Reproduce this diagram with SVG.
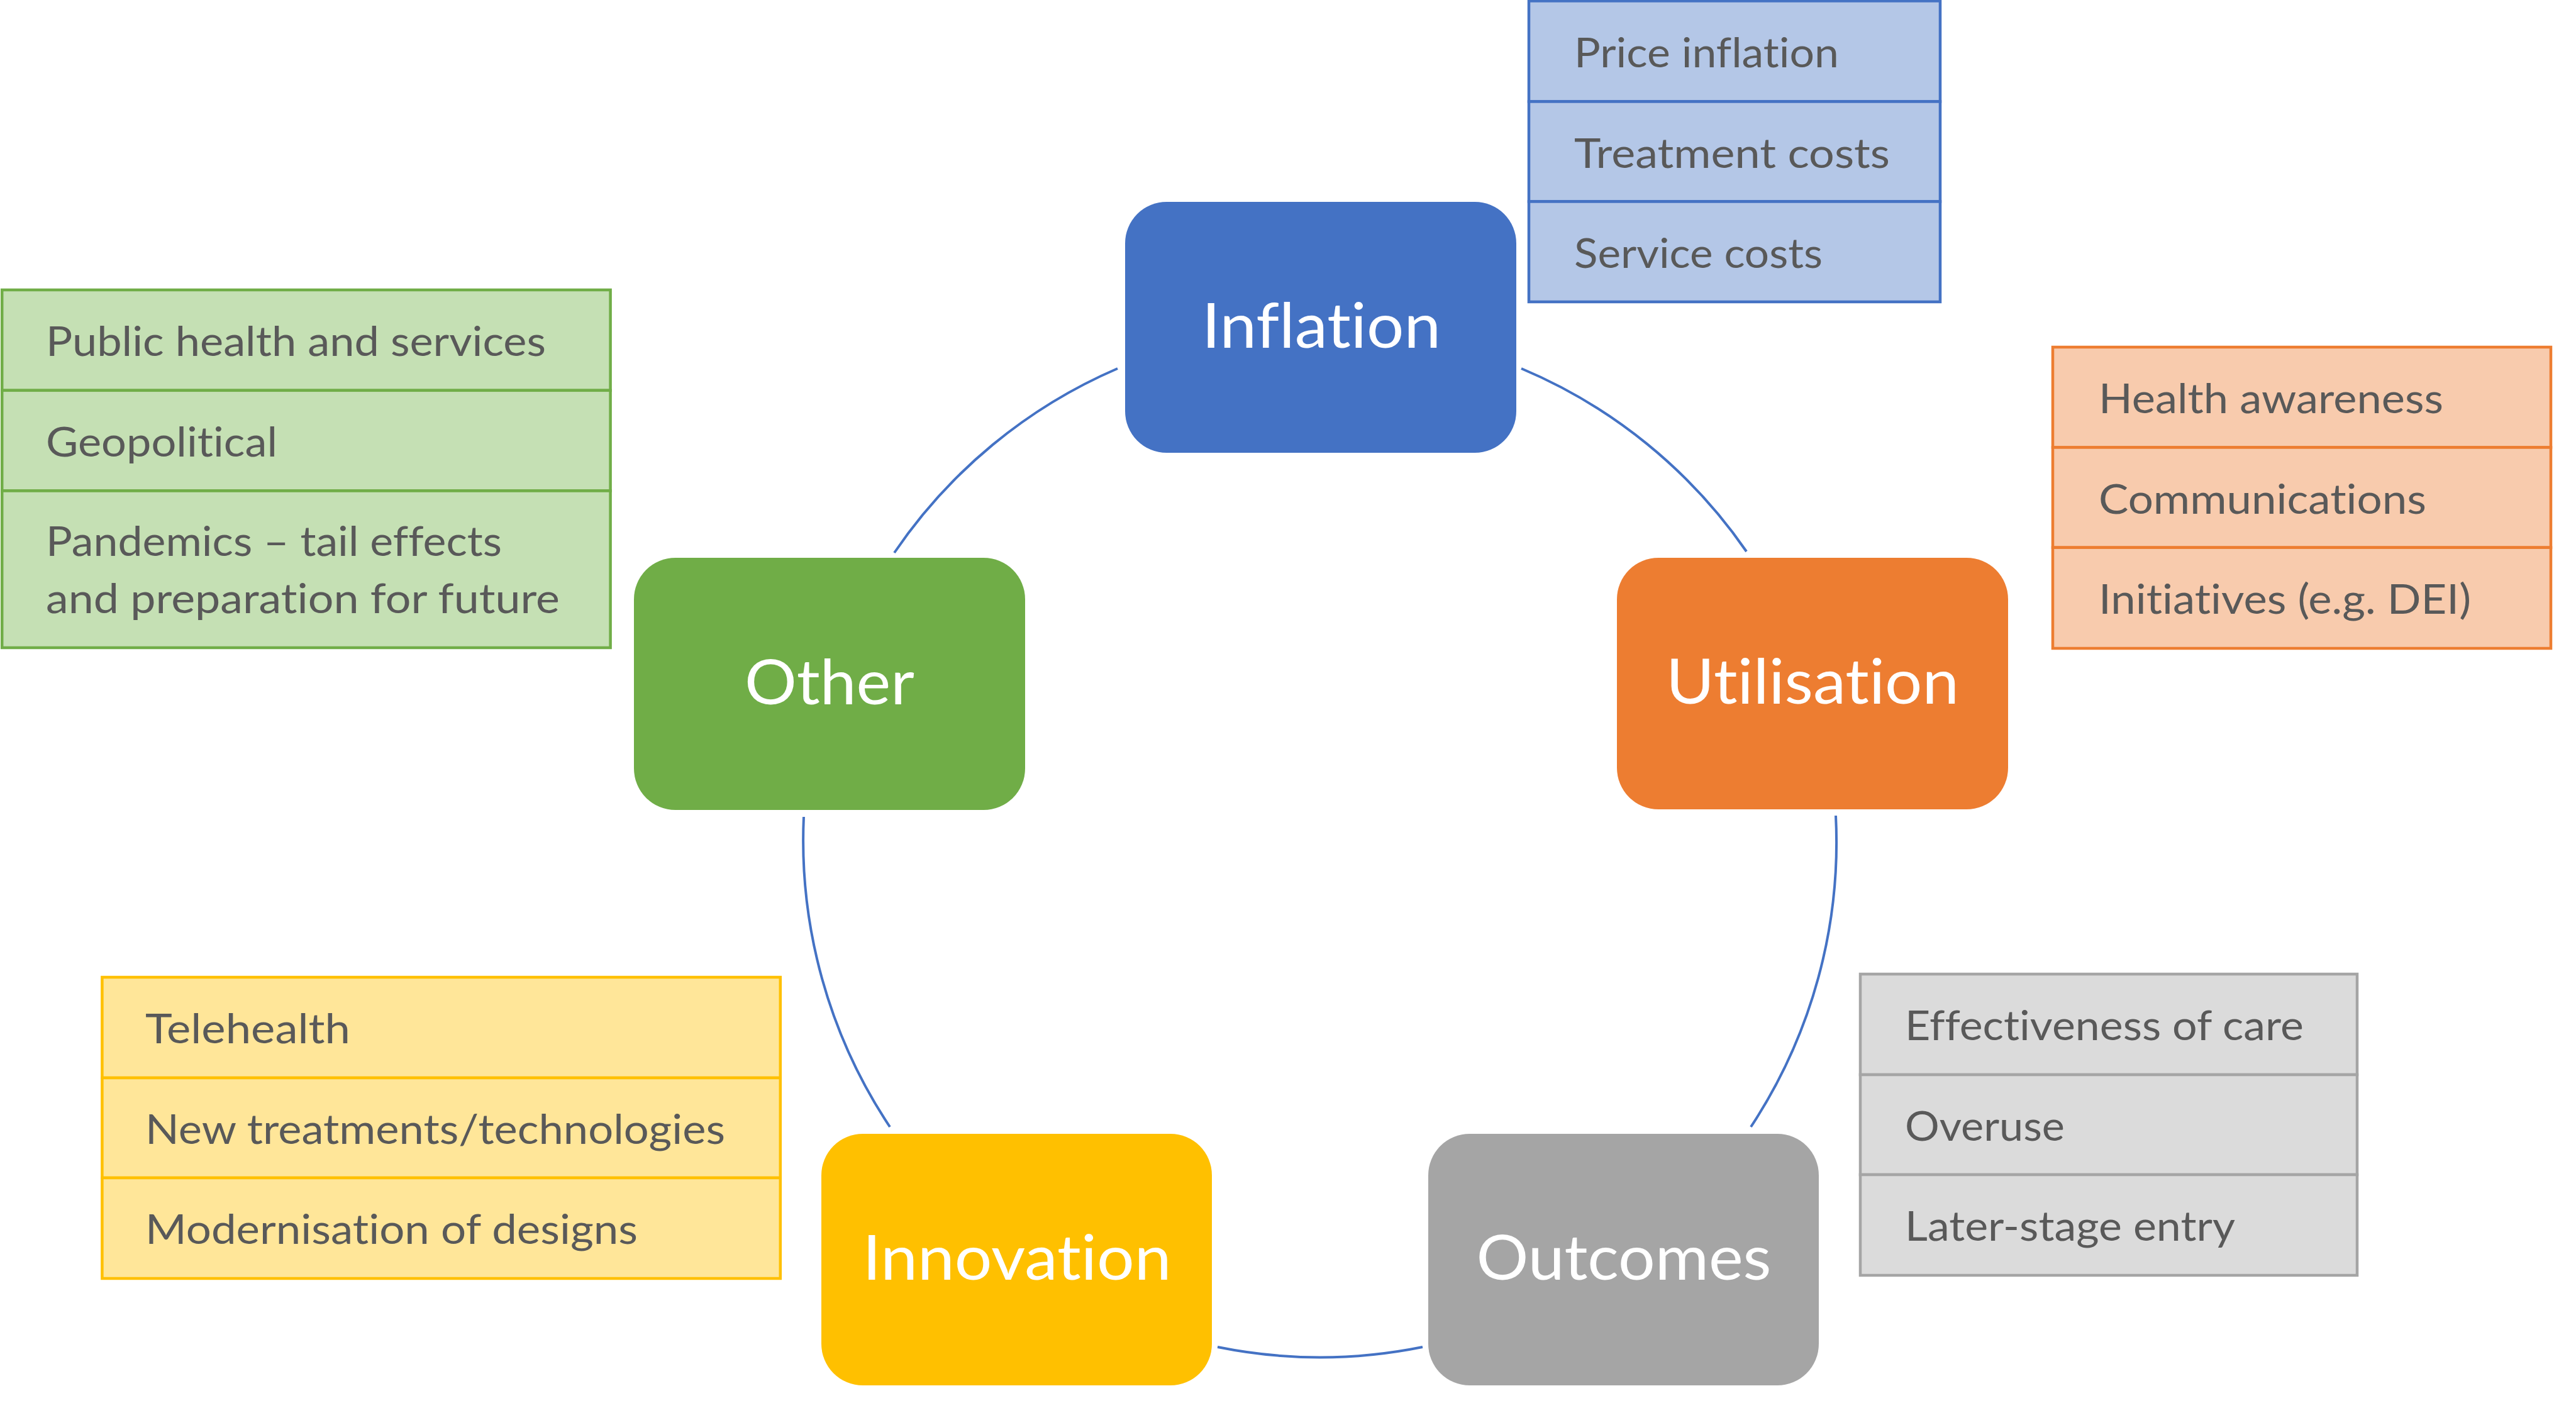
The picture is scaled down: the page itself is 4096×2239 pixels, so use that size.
<svg xmlns="http://www.w3.org/2000/svg" width="4096" height="2239" viewBox="0 0 4096 2239">
<style>
.node{stroke:none}
.lbl{font-family:Lato,"Open Sans","Noto Sans",sans-serif;font-size:99px;fill:#FFFFFF;text-anchor:middle;font-variant-ligatures:none}
.item{font-family:Lato,"Open Sans","Noto Sans",sans-serif;font-size:66px;fill:#595959;font-variant-ligatures:none}
.conn{fill:none;stroke:#4472C4;stroke-width:4}
.tb{stroke-width:4.5}
.blue{fill:#B4C7E7;stroke:#4472C4}
.orange{fill:#F8CBAD;stroke:#ED7D31}
.green{fill:#C5E0B4;stroke:#70AD47}
.yellow{fill:#FFE699;stroke:#FFC000}
.gray{fill:#DBDBDB;stroke:#A5A5A5}
</style>
<rect width="4096" height="2239" fill="#FFFFFF"/>
<g id="connectors">
<path class="conn" d="M 2419 586 A 822 822 0 0 1 2777 877"/>
<path class="conn" d="M 2919 1297 A 822 822 0 0 1 2784 1792"/>
<path class="conn" d="M 2262 2142 A 822 822 0 0 1 1936 2142"/>
<path class="conn" d="M 1415 1792 A 822 822 0 0 1 1278 1299"/>
<path class="conn" d="M 1422 879 A 822 822 0 0 1 1777 586"/>
</g>
<g id="inflation">
<rect class="node" x="1789" y="321" width="622" height="399" rx="66" fill="#4472C4"/>
<text class="lbl" x="2101" y="553" textLength="380" lengthAdjust="spacingAndGlyphs">Inflation</text>
</g>
<g id="utilisation">
<rect class="node" x="2571" y="887" width="622" height="400" rx="66" fill="#ED7D31"/>
<text class="lbl" x="2882" y="1119" textLength="466" lengthAdjust="spacingAndGlyphs">Utilisation</text>
</g>
<g id="outcomes">
<rect class="node" x="2271" y="1803" width="621" height="400" rx="66" fill="#A5A5A5"/>
<text class="lbl" x="2582" y="2035" textLength="469" lengthAdjust="spacingAndGlyphs">Outcomes</text>
</g>
<g id="innovation">
<rect class="node" x="1306" y="1803" width="621" height="400" rx="66" fill="#FFC000"/>
<text class="lbl" x="1617" y="2035" textLength="491" lengthAdjust="spacingAndGlyphs">Innovation</text>
</g>
<g id="other">
<rect class="node" x="1008" y="887" width="622" height="401" rx="66" fill="#70AD47"/>
<text class="lbl" x="1319" y="1120" textLength="270" lengthAdjust="spacingAndGlyphs">Other</text>
</g>
<g id="inflation-items">
<rect class="tb blue" x="2431" y="1.5" width="654" height="160"/>
<rect class="tb blue" x="2431" y="161.5" width="654" height="159"/>
<rect class="tb blue" x="2431" y="320.5" width="654" height="159.5"/>
<text class="item" x="2503" y="106.5" textLength="421" lengthAdjust="spacingAndGlyphs">Price inflation</text>
<text class="item" x="2503" y="266.5" textLength="502" lengthAdjust="spacingAndGlyphs">Treatment costs</text>
<text class="item" x="2503" y="425.5" textLength="395" lengthAdjust="spacingAndGlyphs">Service costs</text>
</g>
<g id="utilisation-items">
<rect class="tb orange" x="3264" y="552" width="792" height="159.5"/>
<rect class="tb orange" x="3264" y="711.5" width="792" height="159.2"/>
<rect class="tb orange" x="3264" y="870.7" width="792" height="160.3"/>
<text class="item" x="3337" y="657" textLength="548" lengthAdjust="spacingAndGlyphs">Health awareness</text>
<text class="item" x="3337" y="816.5" textLength="521" lengthAdjust="spacingAndGlyphs">Communications</text>
<text class="item" x="3337" y="976" textLength="592" lengthAdjust="spacingAndGlyphs">Initiatives (e.g. DEI)</text>
</g>
<g id="other-items">
<rect class="tb green" x="3.2" y="461" width="967.4" height="159.8"/>
<rect class="tb green" x="3.2" y="620.8" width="967.4" height="159.7"/>
<rect class="tb green" x="3.2" y="780.5" width="967.4" height="249.5"/>
<text class="item" x="73" y="566" textLength="795" lengthAdjust="spacingAndGlyphs">Public health and services</text>
<text class="item" x="73" y="726" textLength="368" lengthAdjust="spacingAndGlyphs">Geopolitical</text>
<text class="item" x="73" y="884" textLength="725" lengthAdjust="spacingAndGlyphs">Pandemics – tail effects</text>
<text class="item" x="73" y="975" textLength="817" lengthAdjust="spacingAndGlyphs">and preparation for future</text>
</g>
<g id="innovation-items">
<rect class="tb yellow" x="162.4" y="1554" width="1078.4" height="160"/>
<rect class="tb yellow" x="162.4" y="1714" width="1078.4" height="159"/>
<rect class="tb yellow" x="162.4" y="1873" width="1078.4" height="160"/>
<text class="item" x="231" y="1659" textLength="326" lengthAdjust="spacingAndGlyphs">Telehealth</text>
<text class="item" x="231" y="1819" textLength="922" lengthAdjust="spacingAndGlyphs">New treatments/technologies</text>
<text class="item" x="231" y="1978" textLength="783" lengthAdjust="spacingAndGlyphs">Modernisation of designs</text>
</g>
<g id="outcomes-items">
<rect class="tb gray" x="2958" y="1549" width="790" height="160"/>
<rect class="tb gray" x="2958" y="1709" width="790" height="159"/>
<rect class="tb gray" x="2958" y="1868" width="790" height="160"/>
<text class="item" x="3029" y="1654" textLength="634" lengthAdjust="spacingAndGlyphs">Effectiveness of care</text>
<text class="item" x="3029" y="1814" textLength="254" lengthAdjust="spacingAndGlyphs">Overuse</text>
<text class="item" x="3029" y="1973" textLength="525" lengthAdjust="spacingAndGlyphs">Later-stage entry</text>
</g>
</svg>
